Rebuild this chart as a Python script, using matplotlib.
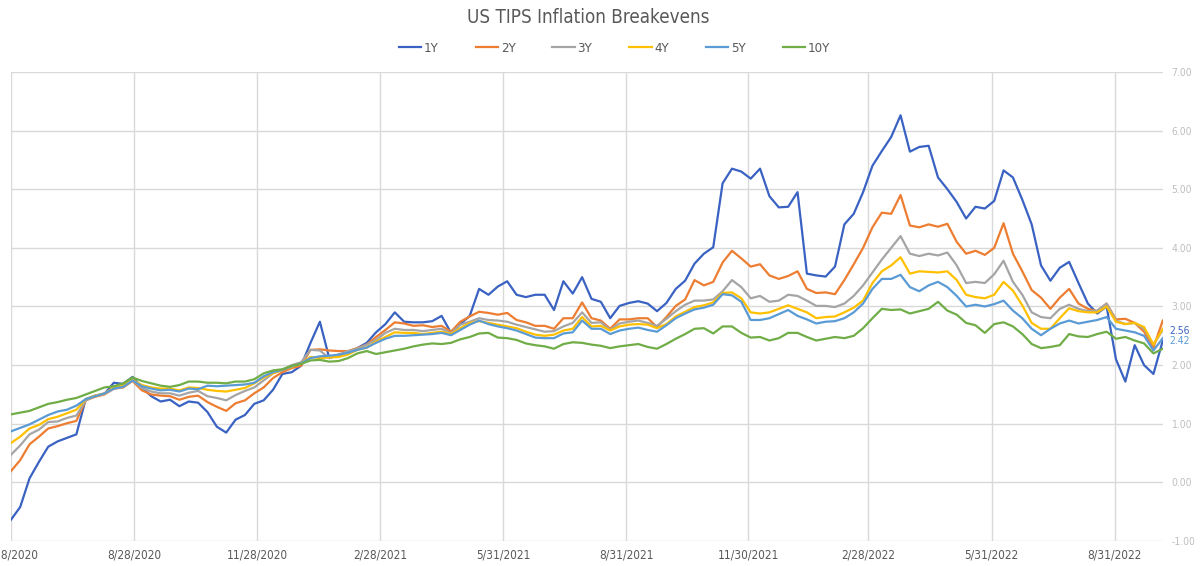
import pandas as pd
import matplotlib
matplotlib.use("Agg")
import matplotlib.pyplot as plt
from matplotlib import font_manager

plt.rcParams['font.family'] = ['DejaVu Sans']
names = {f.name + '|' + str(f.stretch) for f in font_manager.fontManager.ttflist}
if any(n.startswith('DejaVu Sans|') and 'condensed' in n for n in names):
    plt.rcParams['font.stretch'] = 'condensed'

# weekly observation dates (x axis categories)
dates = pd.date_range('2020-05-28', periods=124, freq='7D')

be_1y = [
    -0.64, -0.42, 0.07, 0.35, 0.61, 0.70, 0.76, 0.82, 1.42, 1.48,
    1.51, 1.70, 1.68, 1.80, 1.62, 1.47, 1.38, 1.41, 1.30, 1.38,
    1.36, 1.20, 0.95, 0.85, 1.07, 1.15, 1.34, 1.40, 1.58, 1.85,
    1.88, 1.99, 2.38, 2.74, 2.12, 2.17, 2.22, 2.29, 2.38, 2.56,
    2.70, 2.90, 2.74, 2.73, 2.73, 2.75, 2.84, 2.55, 2.70, 2.84,
    3.30, 3.20, 3.34, 3.43, 3.20, 3.16, 3.20, 3.20, 2.94, 3.43,
    3.22, 3.50, 3.13, 3.08, 2.80, 3.01, 3.06, 3.09, 3.05, 2.92,
    3.06, 3.30, 3.44, 3.73, 3.90, 4.01, 5.10, 5.35, 5.30, 5.18,
    5.35, 4.88, 4.69, 4.70, 4.95, 3.56, 3.53, 3.51, 3.68, 4.40,
    4.58, 4.95, 5.40, 5.65, 5.89, 6.26, 5.64, 5.72, 5.74, 5.20,
    5.00, 4.78, 4.50, 4.70, 4.67, 4.80, 5.32, 5.20, 4.82, 4.40,
    3.70, 3.44, 3.66, 3.76, 3.40, 3.05, 2.88, 3.00, 2.10, 1.72,
    2.34, 2.00, 1.85, 2.42,
]
be_2y = [
    0.19, 0.38, 0.65, 0.78, 0.92, 0.96, 1.01, 1.05, 1.40, 1.46,
    1.50, 1.60, 1.62, 1.73, 1.57, 1.50, 1.48, 1.47, 1.41, 1.46,
    1.48, 1.37, 1.29, 1.22, 1.35, 1.40, 1.52, 1.62, 1.78, 1.88,
    1.95, 1.99, 2.26, 2.27, 2.25, 2.24, 2.24, 2.29, 2.35, 2.48,
    2.60, 2.73, 2.71, 2.67, 2.68, 2.65, 2.67, 2.57, 2.74, 2.83,
    2.91, 2.89, 2.86, 2.89, 2.77, 2.73, 2.67, 2.67, 2.62, 2.80,
    2.80, 3.07, 2.80, 2.76, 2.62, 2.78, 2.78, 2.80, 2.80, 2.65,
    2.82, 3.01, 3.12, 3.45, 3.36, 3.42, 3.75, 3.95, 3.82, 3.68,
    3.72, 3.53, 3.47, 3.52, 3.60, 3.30, 3.23, 3.24, 3.21, 3.45,
    3.72, 4.00, 4.35, 4.60, 4.58, 4.90, 4.38, 4.35, 4.40, 4.36,
    4.41, 4.10, 3.90, 3.95, 3.88, 4.00, 4.42, 3.90, 3.60, 3.28,
    3.15, 2.96, 3.15, 3.30, 3.05, 2.96, 2.92, 3.05, 2.78, 2.79,
    2.72, 2.57, 2.30, 2.76,
]
be_3y = [
    0.47, 0.63, 0.82, 0.90, 1.03, 1.04, 1.10, 1.14, 1.40, 1.47,
    1.51, 1.60, 1.63, 1.74, 1.61, 1.55, 1.52, 1.52, 1.48, 1.53,
    1.56, 1.47, 1.44, 1.40, 1.49, 1.56, 1.62, 1.74, 1.86, 1.92,
    2.00, 2.05, 2.26, 2.25, 2.12, 2.18, 2.24, 2.28, 2.35, 2.43,
    2.55, 2.62, 2.60, 2.60, 2.58, 2.60, 2.62, 2.54, 2.69, 2.74,
    2.80, 2.77, 2.76, 2.74, 2.69, 2.65, 2.61, 2.57, 2.58, 2.66,
    2.72, 2.90, 2.72, 2.73, 2.60, 2.71, 2.74, 2.76, 2.72, 2.67,
    2.79, 2.92, 3.03, 3.10, 3.10, 3.12, 3.26, 3.45, 3.33, 3.14,
    3.18, 3.08, 3.10, 3.20, 3.18, 3.10, 3.01, 3.01, 2.99, 3.05,
    3.18, 3.36, 3.58, 3.80, 4.00, 4.20, 3.90, 3.86, 3.90, 3.87,
    3.92, 3.70, 3.40, 3.42, 3.40, 3.55, 3.78, 3.42, 3.20, 2.90,
    2.82, 2.80, 2.96, 3.03, 2.96, 2.92, 2.93, 3.05, 2.76, 2.70,
    2.72, 2.62, 2.35, 2.60,
]
be_4y = [
    0.67, 0.78, 0.92, 0.98, 1.08, 1.12, 1.18, 1.24, 1.42, 1.48,
    1.52, 1.62, 1.65, 1.75, 1.66, 1.62, 1.60, 1.60, 1.57, 1.62,
    1.61, 1.58, 1.56, 1.55, 1.58, 1.61, 1.69, 1.79, 1.86, 1.92,
    1.97, 2.03, 2.14, 2.12, 2.13, 2.14, 2.18, 2.26, 2.30, 2.40,
    2.48, 2.56, 2.55, 2.55, 2.53, 2.55, 2.57, 2.53, 2.63, 2.72,
    2.75, 2.72, 2.69, 2.66, 2.63, 2.57, 2.52, 2.50, 2.52, 2.59,
    2.62, 2.82, 2.66, 2.67, 2.59, 2.66, 2.69, 2.70, 2.69, 2.63,
    2.70, 2.83, 2.91, 2.99, 3.02, 3.07, 3.23, 3.24, 3.14, 2.90,
    2.88, 2.90, 2.96, 3.02, 2.96, 2.90, 2.80, 2.82, 2.83, 2.90,
    2.98, 3.10, 3.40, 3.60, 3.70, 3.84, 3.56, 3.60, 3.59, 3.58,
    3.60, 3.45, 3.20, 3.16, 3.14, 3.20, 3.42, 3.27, 3.02, 2.72,
    2.62, 2.62, 2.80, 2.97, 2.92, 2.90, 2.90, 3.00, 2.74, 2.70,
    2.72, 2.65, 2.35, 2.62,
]
be_5y = [
    0.87, 0.93, 0.99, 1.07, 1.15, 1.21, 1.24, 1.31, 1.42, 1.47,
    1.52, 1.60, 1.63, 1.74, 1.64, 1.60, 1.57, 1.58, 1.55, 1.60,
    1.59, 1.65, 1.64, 1.65, 1.66, 1.67, 1.70, 1.81, 1.88, 1.92,
    1.98, 2.03, 2.12, 2.15, 2.16, 2.18, 2.21, 2.26, 2.30, 2.38,
    2.45, 2.50, 2.50, 2.51, 2.52, 2.53, 2.55, 2.51, 2.60, 2.69,
    2.76, 2.70, 2.66, 2.63, 2.59, 2.53, 2.47, 2.46, 2.46, 2.54,
    2.56, 2.76, 2.62, 2.62, 2.53, 2.59, 2.62, 2.64, 2.60, 2.57,
    2.68, 2.80, 2.88, 2.95, 2.98, 3.03, 3.21, 3.19, 3.08, 2.77,
    2.77, 2.80, 2.87, 2.94, 2.84, 2.78, 2.71, 2.74, 2.75, 2.80,
    2.90, 3.05, 3.30, 3.47, 3.47, 3.54, 3.33, 3.26, 3.36, 3.42,
    3.33, 3.18, 3.00, 3.03, 3.00, 3.04, 3.10, 2.93, 2.80, 2.62,
    2.51, 2.62, 2.71, 2.76, 2.71, 2.74, 2.77, 2.82, 2.62, 2.59,
    2.56, 2.50, 2.25, 2.46,
]
be_10y = [
    1.16, 1.19, 1.22, 1.28, 1.34, 1.37, 1.41, 1.44, 1.50, 1.56,
    1.62, 1.64, 1.69, 1.79, 1.73, 1.69, 1.65, 1.63, 1.66, 1.72,
    1.72, 1.70, 1.70, 1.69, 1.72, 1.72, 1.76, 1.86, 1.91, 1.93,
    1.99, 2.02, 2.08, 2.09, 2.06, 2.07, 2.12, 2.20, 2.24, 2.19,
    2.22, 2.25, 2.28, 2.32, 2.35, 2.37, 2.36, 2.38, 2.44, 2.48,
    2.54, 2.55, 2.47, 2.46, 2.43, 2.37, 2.34, 2.32, 2.28, 2.36,
    2.39, 2.38, 2.35, 2.33, 2.29, 2.32, 2.34, 2.36, 2.31, 2.28,
    2.36, 2.45, 2.53, 2.62, 2.63, 2.54, 2.66, 2.66, 2.55, 2.47,
    2.48, 2.42, 2.46, 2.55, 2.55, 2.48, 2.42, 2.45, 2.48, 2.46,
    2.50, 2.63, 2.80, 2.96, 2.94, 2.95, 2.88, 2.92, 2.96, 3.08,
    2.93, 2.86, 2.72, 2.68, 2.55, 2.70, 2.73, 2.66, 2.53, 2.36,
    2.29, 2.31, 2.34, 2.53, 2.49, 2.48, 2.53, 2.57, 2.45, 2.48,
    2.42, 2.37, 2.20, 2.28,
]

series_names = ['1Y', '2Y', '3Y', '4Y', '5Y', '10Y']
series_vals = [be_1y, be_2y, be_3y, be_4y, be_5y, be_10y]
colors = ['#3A62C2', '#ED7D31', '#A5A5A5', '#FFC000', '#5B9BD5', '#70AD47']

tick_dates = ['2020-05-28', '2020-08-28', '2020-11-28', '2021-02-28', '2021-05-31',
              '2021-08-31', '2021-11-30', '2022-02-28', '2022-05-31', '2022-08-31']
end_labels = [('2.56', 2.58, '#3A62C2'), ('2.42', 2.41, '#5B9BD5')]

fig = plt.figure(figsize=(12, 5.66), dpi=100)
ax = fig.add_axes([0.009, 0.044, 0.960, 0.829])

for name, vals, c in zip(series_names, series_vals, colors):
    ax.plot(dates, vals, color=c, lw=1.6, label=name)

ax.set_ylim(-1, 7)
ax.set_yticks(range(-1, 8))
ax.yaxis.set_major_formatter(plt.FuncFormatter(lambda v, p: f"{v:.2f}"))
ax.yaxis.tick_right()
ax.set_xlim(dates[0], dates[-1])
ticks = pd.to_datetime(tick_dates)
ax.set_xticks(ticks)
ax.set_xticklabels([f"{d.month}/{d.day}/{d.year}" for d in ticks])

ax.grid(True, color='#D9D9D9', lw=1)
ax.set_axisbelow(True)
for s in ax.spines.values():
    s.set_visible(False)
ax.tick_params(axis='y', length=0, pad=6, labelsize=7.5, labelcolor='#BFBFBF')
ax.tick_params(axis='x', length=0, pad=5, labelsize=8.5, labelcolor='#595959')

for txt, val, c in end_labels:
    ax.annotate(txt, xy=(1.0, val), xycoords=('axes fraction', 'data'),
                xytext=(5, 0), textcoords='offset points',
                ha='left', va='center', fontsize=7.5, color=c)

fig.suptitle('US TIPS Inflation Breakevens', x=0.49, y=0.985, fontsize=13.5, color='#595959')
fig.legend(loc='center', bbox_to_anchor=(0.512, 0.915), ncol=6, frameon=False,
           fontsize=9.5, handlelength=1.7, handletextpad=0.2, columnspacing=2.8,
           labelcolor='#595959')

fig.savefig('out.png', dpi=100)
